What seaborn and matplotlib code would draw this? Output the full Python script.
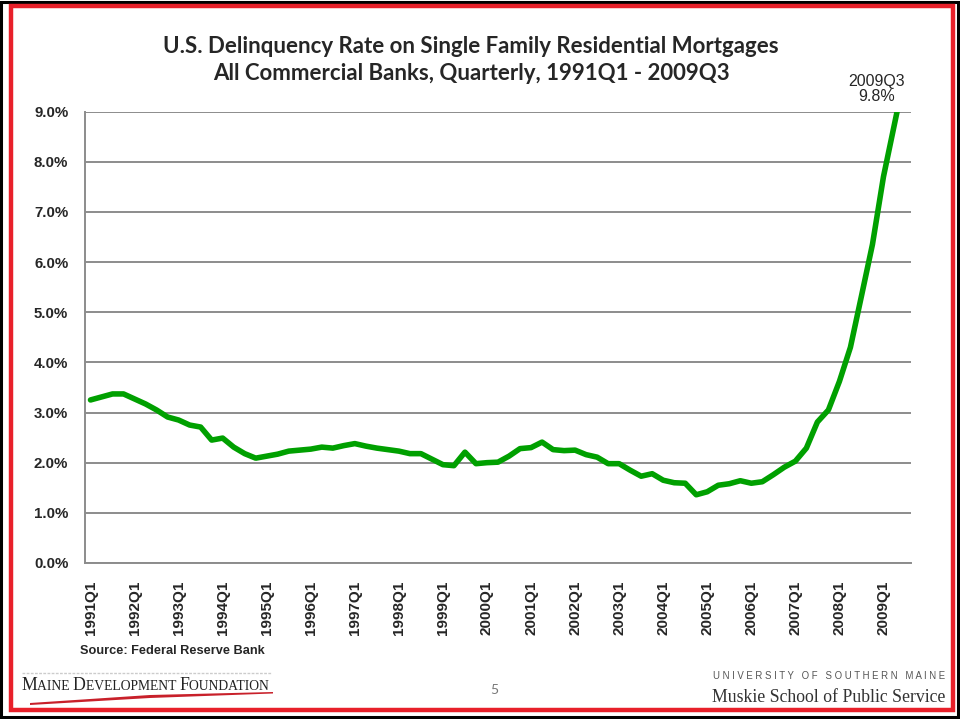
import numpy as np
import matplotlib
matplotlib.use("Agg")
import matplotlib.pyplot as plt
import seaborn as sns
from matplotlib.patches import Rectangle, Polygon

# Delinquency rate (%) per quarter, 1991Q1 - 2009Q3
years = list(range(1991, 2010))
rates = [
    3.25, 3.31, 3.37, 3.37,   # 1991
    3.27, 3.17, 3.05, 2.91,   # 1992
    2.85, 2.75, 2.71, 2.45,   # 1993
    2.49, 2.31, 2.18, 2.09,   # 1994
    2.13, 2.17, 2.23, 2.25,   # 1995
    2.27, 2.31, 2.29, 2.34,   # 1996
    2.38, 2.33, 2.29, 2.26,   # 1997
    2.23, 2.18, 2.18, 2.07,   # 1998
    1.96, 1.94, 2.21, 1.98,   # 1999
    2.00, 2.01, 2.13, 2.28,   # 2000
    2.30, 2.41, 2.26, 2.24,   # 2001
    2.25, 2.16, 2.11, 1.98,   # 2002
    1.98, 1.85, 1.73, 1.78,   # 2003
    1.65, 1.60, 1.59, 1.36,   # 2004
    1.42, 1.55, 1.58, 1.64,   # 2005
    1.59, 1.62, 1.76, 1.91,   # 2006
    2.03, 2.29, 2.81, 3.05,   # 2007
    3.62, 4.30, 5.32, 6.35,   # 2008
    7.70, 8.75, 9.80,         # 2009
]
quarters = [f"{y}Q{q}" for y in years for q in range(1, 5)][:len(rates)]
y_ticks = [0, 1, 2, 3, 4, 5, 6, 7, 8, 9]

title = ("U.S. Delinquency Rate on Single Family Residential Mortgages\n"
         "All Commercial Banks, Quarterly, 1991Q1 - 2009Q3")

sns.set_style("white")
plt.rcParams['font.family'] = ['Liberation Sans', 'DejaVu Sans']

fig = plt.figure(figsize=(9.6, 7.19), dpi=100)
W, H = 960, 719

def fx(px):
    return px / W

def fy(py):
    return 1 - py / H

# slide frame: black outer line, red inner band
fig.patches.append(Rectangle((fx(1), fy(717)), fx(957), 715 / H, transform=fig.transFigure,
                             fill=False, edgecolor="black", linewidth=2.2))
fig.patches.append(Rectangle((fx(11), fy(710)), fx(942), 704 / H, transform=fig.transFigure,
                             fill=False, edgecolor="#e8202a", linewidth=3.2))

ax = fig.add_axes([fx(85), fy(563), fx(826), 451.5 / H])
idx = np.arange(len(rates))
sns.lineplot(x=idx, y=rates, ax=ax, color="#00a000", linewidth=4.0, solid_capstyle="round")

ax.set_xlim(-0.5, len(rates) - 0.5)
ax.set_ylim(0, 9)
ax.set_yticks(y_ticks)
ax.set_yticklabels([f"{v:.1f}%" for v in y_ticks], fontsize=10.8, fontweight="bold")
ax.yaxis.grid(True, color="#8c8c8c", linewidth=1.4)
ax.xaxis.grid(False)
ax.tick_params(axis="y", length=0, pad=12)

ax.set_xticks(idx, minor=True)
ax.set_xticks(idx[::4])
ax.set_xticklabels(quarters[::4], rotation=90, fontsize=11, fontweight="bold")
ax.tick_params(axis="x", which="both", direction="out", length=3, color="#8c8c8c", width=1, pad=10)
ax.set_xlabel("")
ax.set_ylabel("")

for side in ["top", "right"]:
    ax.spines[side].set_visible(False)
for side in ["left", "bottom"]:
    ax.spines[side].set_color("#8c8c8c")
    ax.spines[side].set_linewidth(1.4)

fig.text(fx(471), fy(60), title, ha="center", va="center", fontsize=16,
         fontweight="bold", family=["Lato", "DejaVu Sans"], linespacing=1.4)

ax.annotate(f"{quarters[-1]}\n{rates[-1]:.1f}%", xy=(len(rates) - 1, 9.0),
            xytext=(fx(877), fy(89)), textcoords="figure fraction",
            ha="center", va="center", fontsize=11.5, linespacing=1.0, annotation_clip=False)

fig.text(fx(80), fy(651), "Source: Federal Reserve Bank", ha="left", va="center",
         fontsize=9.2, fontweight="bold")

# footer: small-caps style foundation name
serif = ["Liberation Serif", "DejaVu Serif"]
fig.canvas.draw()
renderer = fig.canvas.get_renderer()
xpos = fx(21)
for word in ["Maine", "Development", "Foundation"]:
    for part, size in [(word[0], 12.8), (word[1:].upper() + " ", 9.8)]:
        t = fig.text(xpos, fy(690), part, ha="left", va="baseline", fontsize=size,
                     family=serif, color="#222222")
        bb = t.get_window_extent(renderer=renderer)
        xpos += bb.width / W
fig.patches.append(Polygon([(fx(30), fy(703)), (fx(150), fy(695)), (fx(273), fy(692)),
                            (fx(273), fy(693.5)), (fx(150), fy(698)), (fx(30), fy(705))],
                           closed=True, transform=fig.transFigure, facecolor="#c8202a",
                           edgecolor="none"))
fig.add_artist(plt.Line2D([fx(22), fx(272)], [fy(673), fy(673)], transform=fig.transFigure,
                          color="#cccccc", linewidth=1, linestyle=(0, (2, 1))))

fig.text(fx(494), fy(690), "5", ha="center", va="center", fontsize=10, color="#777777",
         family=["Lato", "DejaVu Sans"])
fig.text(fx(945), fy(676), "U N I V E R S I T Y   O F   S O U T H E R N   M A I N E",
         ha="right", va="center", fontsize=6.9, color="#555555")
fig.text(fx(945), fy(697), "Muskie School of Public Service", ha="right", va="center",
         fontsize=12.8, family=serif, color="#333333")

fig.savefig("out.png", dpi=100)
